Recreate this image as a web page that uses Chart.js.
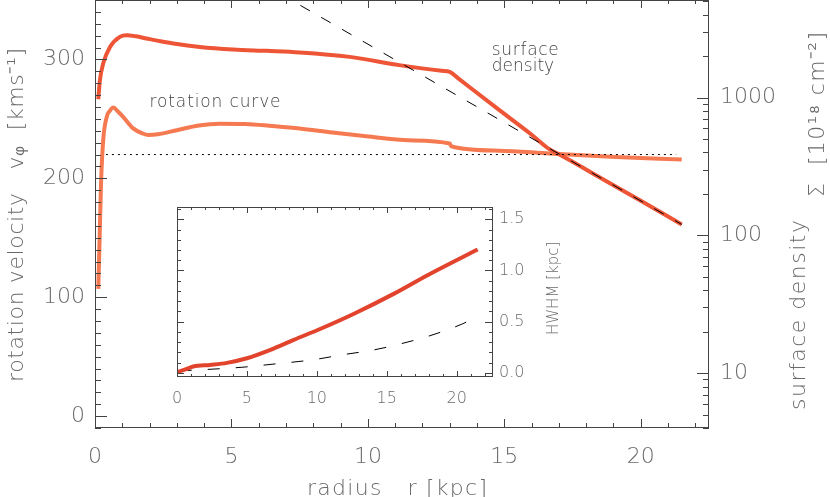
<!DOCTYPE html>
<html>
<head>
<meta charset="utf-8">
<script src="https://cdn.jsdelivr.net/npm/chart.js@4.4.1/dist/chart.umd.min.js"></script>
<style>
  html, body { margin: 0; padding: 0; background: #fff; }
  #wrap { position: relative; width: 830px; height: 497px; }
  #main { position: absolute; left: 0; top: 0; }
  #inset { position: absolute; left: 160px; top: 200px; }
</style>
</head>
<body>
<div id="wrap">
  <canvas id="main" width="830" height="497"></canvas>
  <canvas id="inset" width="410" height="205"></canvas>
</div>
<script>
// tick labels
const radiusTicks = [0, 5, 10, 15, 20];
const velocityTicks = [0, 100, 200, 300];
const densityTicks = [10, 100, 1000];
const hwhmTicks = [0, 0.5, 1, 1.5];

// surface density (right, log axis) [10^18 cm^-2]
const densityR = [0.12, 0.18, 0.3, 0.55, 0.91, 1.16, 1.5, 1.89, 2.4, 2.87, 3.84, 5.06, 6.3, 7.5, 9.33, 11.15, 12.7, 13.0, 13.3, 14.82, 16.0, 16.65, 17.0, 17.5, 18.5, 20.0, 21.5];
const densityVal = [972, 1336, 1766, 2327, 2755, 2830, 2780, 2681, 2560, 2466, 2327, 2231, 2180, 2125, 1972, 1718, 1563, 1535, 1381, 809, 537, 422, 388, 342, 263, 178, 120];

// exponential fit (dashed)
const expR = [6.0, 21.5];
const expVal = [6950, 120];

// rotation curve [km/s]
const rotR = [0.12, 0.17, 0.22, 0.3, 0.43, 0.55, 0.67, 0.85, 1.04, 1.4, 1.77, 1.95, 2.3, 3.0, 3.8, 4.57, 5.5, 6.5, 7.5, 8.7, 9.94, 11.5, 13.0, 13.05, 14.8, 16.65, 19.08, 21.5];
const rotV = [107, 150, 195, 232, 251.7, 257, 259.5, 256, 251.5, 242, 237.5, 236.5, 237, 240.5, 244.5, 246, 245.8, 244, 241.9, 238.5, 235.4, 232, 229.3, 227, 223.3, 220.9, 218, 215.8];

// flat reference velocity (dotted)
const flatR = [0.4, 21.3];
const flatV = [220, 220];

// inset: HWHM [kpc]
const hwhmR = [0.05, 0.6, 1.17, 2.37, 3.57, 5.0, 6.68, 8.35, 10.27, 12.66, 15.53, 17.92, 21.5];
const hwhmVal = [0.01, 0.035, 0.062, 0.078, 0.098, 0.143, 0.225, 0.323, 0.431, 0.578, 0.774, 0.954, 1.205];
const hwhmFitR = [0.2, 4.64, 7.03, 9.67, 11.94, 14.1, 16.0, 18.16, 20.44, 21.03];
const hwhmFitVal = [0.02, 0.055, 0.088, 0.127, 0.179, 0.225, 0.284, 0.366, 0.48, 0.52];

const FONT = "'DejaVu Sans ExtraLight', 'DejaVu Sans', sans-serif";
const WEIGHT = "200";
const LABEL = "#6a6a6a";
const AXIS = "#444";

const pts = (xs, ys) => xs.map((x, i) => ({ x: x, y: ys[i] }));

function steps(min, max, step) {
  const out = [];
  for (let v = Math.ceil(min / step) * step; v <= max + 1e-9; v += step) out.push(+v.toFixed(6));
  return out;
}

function logMinors(min, max) {
  const out = [];
  for (let d = 1; d <= 10000; d *= 10) {
    for (let m = 2; m <= 9; m++) if (m * d >= min && m * d <= max) out.push(m * d);
  }
  return out;
}

// fixed box sizes, no label overhang padding
const fixSize = (w, h) => (s) => {
  if (w !== null) s.width = w;
  if (h !== null) s.height = h;
  s.paddingTop = 0;
  s.paddingBottom = 0;
  s.paddingLeft = 0;
  s.paddingRight = 0;
};

// inward IDL-style tick marks
function ticks(ctx, area, scale, values, len, side) {
  ctx.beginPath();
  values.forEach(v => {
    const p = Math.round(scale.getPixelForValue(v)) + 0.5;
    if (side === "bottom") { ctx.moveTo(p, area.bottom); ctx.lineTo(p, area.bottom - len); }
    if (side === "top") { ctx.moveTo(p, area.top); ctx.lineTo(p, area.top + len); }
    if (side === "left") { ctx.moveTo(area.left, p); ctx.lineTo(area.left + len, p); }
    if (side === "right") { ctx.moveTo(area.right, p); ctx.lineTo(area.right - len, p); }
  });
  ctx.stroke();
}

function box(ctx, a) {
  ctx.strokeRect(a.left + 0.5, a.top + 0.5, a.right - a.left - 1, a.bottom - a.top - 1);
}

// text stretched with letter spacing to a given run length (wide IDL lettering)
function fitText(ctx, text, x, y, len, size, color, vertical) {
  ctx.save();
  ctx.font = WEIGHT + " " + size + "px " + FONT;
  ctx.letterSpacing = "0px";
  const w = ctx.measureText(text).width;
  const n = [...text].length;
  ctx.letterSpacing = Math.max(0, (len - w) / (n - 1)) + "px";
  ctx.translate(x, y);
  if (vertical) ctx.rotate(-Math.PI / 2);
  ctx.fillStyle = color;
  ctx.textAlign = "left";
  ctx.textBaseline = "alphabetic";
  ctx.fillText(text, 0, 0);
  ctx.restore();
}

const mainFrame = {
  id: "mainFrame",
  afterDraw(chart) {
    const { ctx, chartArea: a, scales } = chart;
    ctx.save();
    ctx.strokeStyle = AXIS;
    ctx.lineWidth = 1;
    box(ctx, a);
    ticks(ctx, a, scales.x, radiusTicks, 9, "bottom");
    ticks(ctx, a, scales.x, steps(0, 22.5, 1), 5, "bottom");
    ticks(ctx, a, scales.x, radiusTicks, 8, "top");
    ticks(ctx, a, scales.x, steps(0, 22.5, 1), 4, "top");
    ticks(ctx, a, scales.yV, velocityTicks, 12, "left");
    ticks(ctx, a, scales.yV, steps(-10, 350, 10), 6, "left");
    ticks(ctx, a, scales.ySigma, densityTicks, 12, "right");
    ticks(ctx, a, scales.ySigma, logMinors(4, 5100), 6, "right");
    ctx.restore();

    const x = scales.x, y = scales.yV;
    fitText(ctx, "rotation curve", x.getPixelForValue(2.0), y.getPixelForValue(259.6), 131, 17, "#444");
    fitText(ctx, "surface", x.getPixelForValue(14.54), y.getPixelForValue(304), 67, 17, "#444");
    fitText(ctx, "density", x.getPixelForValue(14.54), y.getPixelForValue(290), 62, 17, "#444");

    // axis titles
    fitText(ctx, "radius   r [kpc]", 307, 495, 180, 22, LABEL);
    fitText(ctx, "rotation velocity   v\u1D69  [kms\u207B\u00B9]", 23, 382, 334, 22, LABEL, true);
    fitText(ctx, "surface density", 805, 410, 190, 22, LABEL, true);
    fitText(ctx, "\u03A3  [10\u00B9\u2078 cm\u207B\u00B2]", 824, 197, 165, 22, LABEL, true);
  }
};

const insetFrame = {
  id: "insetFrame",
  beforeDraw(chart) {
    const { ctx, chartArea: a } = chart;
    ctx.save();
    ctx.fillStyle = "#fff";
    ctx.fillRect(a.left, a.top, a.right - a.left, a.bottom - a.top);
    ctx.restore();
  },
  afterDraw(chart) {
    const { ctx, chartArea: a, scales } = chart;
    ctx.save();
    ctx.strokeStyle = AXIS;
    ctx.lineWidth = 1;
    box(ctx, a);
    ticks(ctx, a, scales.x, radiusTicks, 6, "bottom");
    ticks(ctx, a, scales.x, steps(0, 22.6, 1), 3, "bottom");
    ticks(ctx, a, scales.x, radiusTicks, 6, "top");
    ticks(ctx, a, scales.x, steps(0, 22.6, 1), 3, "top");
    ticks(ctx, a, scales.y, hwhmTicks, 7, "left");
    ticks(ctx, a, scales.y, steps(0, 1.6, 0.1), 4, "left");
    ticks(ctx, a, scales.y, hwhmTicks, 8, "right");
    ticks(ctx, a, scales.y, steps(0, 1.6, 0.1), 4, "right");
    ctx.restore();
    fitText(ctx, "HWHM [kpc]", 398, 135, 92, 15, LABEL, true);
  }
};

const tickFont = { family: FONT, size: 22, weight: WEIGHT };
const smallFont = { family: FONT, size: 16, weight: WEIGHT };

new Chart(document.getElementById("main"), {
  type: "line",
  data: {
    datasets: [
      {
        label: "exponential",
        data: pts(expR, expVal),
        yAxisID: "ySigma",
        borderColor: "#000",
        borderWidth: 1,
        borderDash: [11, 13],
        pointRadius: 0,
        order: 0,
      },
      {
        label: "220 km/s",
        data: pts(flatR, flatV),
        yAxisID: "yV",
        borderColor: "#000",
        borderWidth: 1,
        borderDash: [2, 4],
        pointRadius: 0,
        order: 1,
      },
      {
        label: "surface density",
        data: pts(densityR, densityVal),
        yAxisID: "ySigma",
        borderColor: "#ee5536",
        borderWidth: 4,
        pointRadius: 0,
        cubicInterpolationMode: "monotone",
        order: 2,
      },
      {
        label: "rotation curve",
        data: pts(rotR, rotV),
        yAxisID: "yV",
        borderColor: "#f57a52",
        borderWidth: 4,
        pointRadius: 0,
        cubicInterpolationMode: "monotone",
        order: 3,
      },
    ],
  },
  options: {
    responsive: false,
    animation: false,
    layout: { padding: 0, autoPadding: false },
    plugins: { legend: { display: false }, tooltip: { enabled: false } },
    scales: {
      x: {
        type: "linear",
        min: 0,
        max: 22.5,
        afterBuildTicks: (s) => { s.ticks = radiusTicks.map((v) => ({ value: v })); },
        afterFit: fixSize(null, 69),
        grid: { display: false, drawTicks: false },
        border: { display: false },
        ticks: { padding: 16, color: LABEL, font: tickFont, maxRotation: 0, autoSkip: false },
      },
      yV: {
        type: "linear",
        position: "left",
        min: -10,
        max: 350,
        afterBuildTicks: (s) => { s.ticks = velocityTicks.map((v) => ({ value: v })); },
        afterFit: fixSize(95, null),
        grid: { display: false, drawTicks: false },
        border: { display: false },
        ticks: { padding: 10, color: LABEL, font: tickFont },
      },
      ySigma: {
        type: "logarithmic",
        position: "right",
        min: 4,
        max: 5100,
        afterBuildTicks: (s) => { s.ticks = densityTicks.map((v) => ({ value: v })); },
        afterFit: fixSize(121, null),
        grid: { display: false, drawTicks: false },
        border: { display: false },
        ticks: { padding: 11, color: LABEL, font: tickFont, callback: (v) => String(v) },
      },
    },
  },
  plugins: [mainFrame],
});

new Chart(document.getElementById("inset"), {
  type: "line",
  data: {
    datasets: [
      {
        label: "HWHM",
        data: pts(hwhmR, hwhmVal),
        borderColor: "#e2432d",
        borderWidth: 4,
        pointRadius: 0,
        cubicInterpolationMode: "monotone",
        yAxisID: "y",
        order: 0,
      },
      {
        label: "fit",
        data: pts(hwhmFitR, hwhmFitVal),
        borderColor: "#000",
        borderWidth: 1,
        borderDash: [12, 16],
        pointRadius: 0,
        cubicInterpolationMode: "monotone",
        yAxisID: "y",
        order: 1,
      },
    ],
  },
  options: {
    responsive: false,
    animation: false,
    layout: { padding: { top: 7, left: 0, right: 0, bottom: 0 }, autoPadding: false },
    plugins: { legend: { display: false }, tooltip: { enabled: false } },
    scales: {
      x: {
        type: "linear",
        min: 0,
        max: 22.6,
        afterBuildTicks: (s) => { s.ticks = radiusTicks.map((v) => ({ value: v })); },
        afterFit: fixSize(null, 28),
        grid: { display: false, drawTicks: false },
        border: { display: false },
        ticks: { padding: 12, color: LABEL, font: smallFont, maxRotation: 0, autoSkip: false },
      },
      yL: {
        type: "linear",
        position: "left",
        min: -0.04,
        max: 1.62,
        afterFit: fixSize(17, null),
        grid: { display: false, drawTicks: false },
        border: { display: false },
        ticks: { display: false },
      },
      y: {
        type: "linear",
        position: "right",
        min: -0.04,
        max: 1.62,
        afterBuildTicks: (s) => { s.ticks = hwhmTicks.map((v) => ({ value: v })); },
        afterFit: fixSize(77, null),
        grid: { display: false, drawTicks: false },
        border: { display: false },
        ticks: { padding: 6, color: LABEL, font: smallFont, callback: (v) => v.toFixed(1) },
      },
    },
  },
  plugins: [insetFrame],
});
</script>
</body>
</html>
